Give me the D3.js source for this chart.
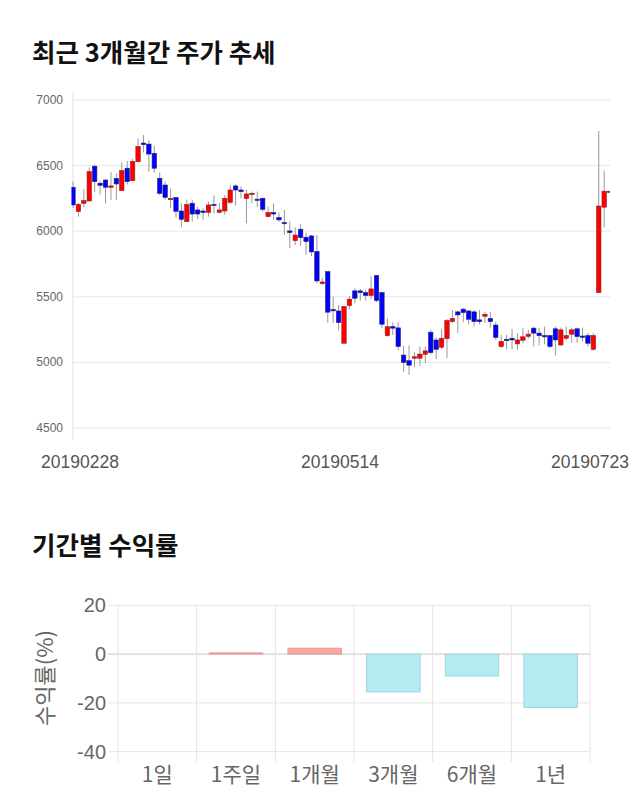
<!DOCTYPE html>
<html><head><meta charset="utf-8">
<script src="https://cdn.jsdelivr.net/npm/d3@7"></script>
<style>body{margin:0;background:#fff;}svg{display:block;}</style>
</head><body>
<script>
// ---- candle data (index 0 = 2019-02-28 ... 99 = 2019-07-23)
const opens  = [6335,6150,6213,6230,6495,6366,6390,6335,6402,6310,6480,6385,6530,6672,6664,6594,6403,6352,6240,6256,
                6154,6073,6213,6162,6154,6144,6205,6144,6154,6220,6345,6314,6249,6279,6244,6251,6111,6142,6104,6066,
                6002,5928,6015,5954,5964,5845,5601,5692,5403,5392,5146,5433,5545,5545,5532,5510,5662,5532,5204,5273,
                5263,5056,5013,5032,5032,5062,5230,5171,5116,5181,5311,5385,5406,5392,5385,5324,5352,5334,5285,5121,
                5176,5184,5141,5169,5199,5261,5223,5204,5204,5256,5133,5184,5215,5256,5201,5204,5100,5532,6183,6300];
const highs  = [6378,6215,6320,6485,6508,6380,6398,6450,6440,6525,6535,6552,6705,6733,6695,6650,6449,6378,6325,6262,
                6213,6242,6238,6187,6175,6225,6272,6215,6276,6352,6358,6340,6314,6302,6302,6255,6187,6213,6142,6162,
                6073,6030,6055,5989,5971,5971,5644,5692,5502,5438,5430,5507,5565,5560,5555,5659,5668,5540,5337,5304,
                5304,5126,5128,5078,5120,5120,5250,5191,5252,5331,5400,5395,5413,5400,5400,5400,5385,5385,5310,5210,
                5210,5256,5223,5261,5250,5273,5265,5273,5210,5273,5265,5273,5265,5265,5265,5223,5223,6764,6462,6305];
const lows   = [6177,6111,6182,6230,6296,6280,6213,6240,6240,6305,6355,6380,6525,6600,6454,6445,6276,6240,6175,6105,
                6030,6070,6073,6091,6086,6111,6137,6137,6124,6210,6195,6251,6061,6213,6183,6149,6105,6086,6073,5971,
                5870,5895,5888,5819,5811,5603,5590,5304,5299,5247,5146,5406,5451,5470,5470,5484,5460,5260,5195,5210,
                5095,4926,4905,4964,4975,4995,5060,5024,5100,5032,5304,5223,5306,5290,5275,5290,5300,5265,5170,5110,
                5100,5100,5095,5146,5180,5121,5130,5140,5110,5052,5125,5170,5150,5150,5160,5121,5090,5532,6030,6300];
const closes = [6200,6205,6233,6455,6378,6350,6335,6345,6360,6462,6378,6532,6645,6660,6588,6480,6289,6258,6250,6152,
                6091,6203,6131,6131,6143,6200,6196,6162,6251,6314,6314,6302,6284,6289,6238,6167,6142,6131,6086,6058,
                5990,5971,5951,5921,5842,5621,5613,5383,5393,5304,5425,5482,5489,5532,5510,5560,5472,5291,5272,5261,
                5121,5000,4979,5043,5063,5088,5075,5100,5184,5319,5334,5362,5380,5329,5311,5311,5367,5311,5191,5159,
                5166,5171,5171,5195,5215,5223,5204,5197,5121,5171,5248,5204,5248,5197,5191,5146,5204,6192,6305,6305];
const dateLabels = ["20190228","20190514","20190723"];
const dateLabelIdx = [0,50,99];
const priceTicks = [4500,5000,5500,6000,6500,7000];

// ---- period returns
const periods = ["1일","1주일","1개월","3개월","6개월","1년"];
const returns = [0, 0.5, 2.4, -15.5, -9.0, -21.9];
const returnTicks = [20,0,-20,-40];

const W = 640, H = 810;
const svg = d3.select("body").append("svg").attr("width",W).attr("height",H);
const KR = "'Noto Sans CJK KR','Noto Sans',sans-serif";
const SANS = "'Liberation Sans',Arial,sans-serif";

// ---------- Title 1
svg.append("text").attr("x",32).attr("y",62).text("최근 3개월간 주가 추세")
  .attr("font-family",KR).attr("font-weight","bold").attr("font-size",25.5).attr("fill","#111");

// ---------- Candle chart
const x = d3.scaleLinear().domain([0,99]).range([73,609.6]);
const y = d3.scaleLinear().domain([4500,7000]).range([428,100]);

const g = svg.append("g");
g.selectAll("line.grid").data(priceTicks).join("line")
  .attr("x1",73).attr("x2",610).attr("y1",d=>y(d)).attr("y2",d=>y(d))
  .attr("stroke","#e6e6e6").attr("stroke-width",1);
g.append("line").attr("x1",73).attr("x2",73).attr("y1",92).attr("y2",440)
  .attr("stroke","#e0e0e0").attr("stroke-width",1);
g.selectAll("text.pt").data(priceTicks).join("text")
  .attr("x",63).attr("y",d=>y(d)+4).attr("text-anchor","end").text(d=>d)
  .attr("font-family",SANS).attr("font-size",12).attr("fill","#666");

svg.append("clipPath").attr("id","clip").append("rect")
  .attr("x",71.5).attr("y",80).attr("width",610-71.5).attr("height",370);
const cg = svg.append("g").attr("clip-path","url(#clip)");
const idx = d3.range(opens.length);
const cw = 4.4;
cg.selectAll("line.wick").data(idx).join("line")
  .attr("x1",i=>x(i)).attr("x2",i=>x(i)).attr("y1",i=>y(highs[i])).attr("y2",i=>y(lows[i]))
  .attr("stroke","#999").attr("stroke-width",1);
cg.selectAll("rect.body").data(idx).join("rect")
  .attr("x",i=>x(i)-cw/2).attr("width",cw)
  .attr("y",i=>y(Math.max(opens[i],closes[i])))
  .attr("height",i=>Math.max(1.2, Math.abs(y(opens[i])-y(closes[i]))))
  .attr("fill",i=>closes[i]>=opens[i]?"#ff0000":"#0000ff")
  .attr("stroke",i=>closes[i]>=opens[i]?"#8b2020":"#22226b").attr("stroke-width",0.6);

svg.selectAll("text.dl").data(dateLabels).join("text")
  .attr("x",(d,i)=>[80,340,590][i]).attr("y",468).attr("text-anchor","middle").text(d=>d)
  .attr("font-family",SANS).attr("font-size",17.5).attr("fill","#555");

// ---------- Title 2
svg.append("text").attr("x",32).attr("y",555).text("기간별 수익률")
  .attr("font-family",KR).attr("font-weight","bold").attr("font-size",25.5).attr("fill","#111");

// ---------- Return bar chart
const bx = d3.scaleBand().domain(periods).range([118,590]).paddingInner(0.32).paddingOuter(0.16);
const bandFull = d3.scaleBand().domain(periods).range([118,590]);
const by = d3.scaleLinear().domain([-40,20]).range([751.7,605.3]);

const bg = svg.append("g");
bg.selectAll("line.hg").data(returnTicks).join("line")
  .attr("x1",108).attr("x2",590).attr("y1",d=>by(d)).attr("y2",d=>by(d))
  .attr("stroke",d=>d===0?"#c8c8c8":"#e4e4e4").attr("stroke-width",1);
const vlines = periods.map(p=>bandFull(p)).concat([590]);
bg.selectAll("line.vg").data(vlines).join("line")
  .attr("x1",d=>d).attr("x2",d=>d).attr("y1",605.3).attr("y2",762)
  .attr("stroke","#e4e4e4").attr("stroke-width",1);
bg.selectAll("text.rt").data(returnTicks).join("text")
  .attr("x",106).attr("y",d=>by(d)+7).attr("text-anchor","end").text(d=>d)
  .attr("font-family",SANS).attr("font-size",20).attr("fill","#666");
bg.selectAll("rect.bar").data(periods).join("rect")
  .attr("x",p=>bx(p)).attr("width",bx.bandwidth())
  .attr("y",(p,i)=>by(Math.max(0,returns[i])))
  .attr("height",(p,i)=>Math.abs(by(returns[i])-by(0)))
  .attr("fill",(p,i)=>returns[i]>=0?"#f9a6a6":"#b3ebf3")
  .attr("stroke",(p,i)=>returns[i]>=0?"#eb9a9a":"#9fd6df").attr("stroke-width",1);
bg.selectAll("text.cat").data(periods).join("text")
  .attr("x",p=>bandFull(p)+bandFull.bandwidth()/2).attr("y",782).attr("text-anchor","middle").text(p=>p)
  .attr("font-family",KR).attr("font-size",21).attr("fill","#666");
bg.append("text").attr("transform","translate(53,678) rotate(-90)").attr("text-anchor","middle")
  .text("수익률(%)").attr("font-family",KR).attr("font-size",22).attr("fill","#666");
</script>
</body></html>
